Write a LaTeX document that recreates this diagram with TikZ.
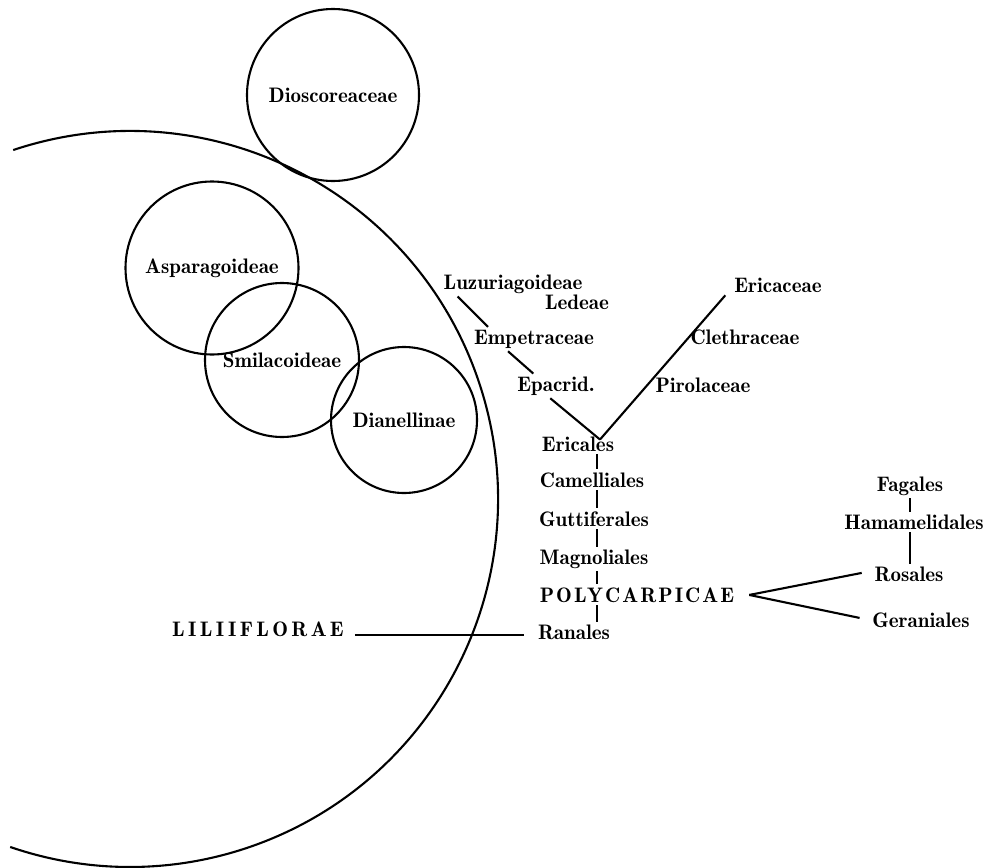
\documentclass[tikz,border=0pt]{standalone}
\usepackage{fontspec}
\newfontface\taxfont{lmromandemi10-regular.otf}
\newfontface\liliifont{lmromandemi10-regular.otf}[LetterSpace=16]
\newfontface\polyfont{lmromandemi10-regular.otf}[LetterSpace=10]
\begin{document}
\begin{tikzpicture}[x=1pt,y=-1pt,line width=2.1pt,
  taxon/.style={font=\taxfont\fontsize{21}{24}\selectfont,inner sep=2pt,anchor=mid},
  ring/.style={draw,circle,inner sep=0pt,font=\taxfont\fontsize{21}{24}\selectfont}]
\useasboundingbox (0,0) rectangle (989,868);

%Liliiflorae, stor cirkel
\draw (130,499) ++(-108.5:368) arc[start angle=-108.5,end angle=109,radius=368];

%cirklar
\node[ring,minimum size=172pt] (dios) at (333,95) {Dioscoreaceae};
\node[ring,minimum size=173pt] (aspa) at (212,268) {Asparagoideae};
\node[ring,minimum size=154pt] (smil) at (282,360) {Smilacoideae};
\node[ring,minimum size=146pt] (dian) at (404,420) {Dianellinae};

%Ericales-grenen
\node[taxon] (luz) at (513,287) {Luzuriagoideae};
\node[taxon] (lede) at (577,307) {Ledeae};
\node[taxon] (empe) at (534,342) {Empetraceae};
\node[taxon] (epac) at (556,389) {Epacrid.};
\node[taxon] (eric) at (578,449) {Ericales};
\node[taxon] (erca) at (778,290) {Ericaceae};
\node[taxon] (clet) at (745,342) {Clethraceae};
\node[taxon] (piro) at (703,390) {Pirolaceae};

%stammen
\node[taxon] (came) at (592,485) {Camelliales};
\node[taxon] (gutt) at (594,524) {Guttiferales};
\node[taxon] (magn) at (594,562) {Magnoliales};
\node[taxon,font=\polyfont\fontsize{21}{24}\selectfont] (poly) at (637,600) {POLYCARPICAE};
\node[taxon] (rana) at (574,637) {Ranales};
\node[taxon,font=\liliifont\fontsize{21}{24}\selectfont] (lili) at (258,634) {LILIIFLORAE};

%Rosales-grenen
\node[taxon] (faga) at (910,489) {Fagales};
\node[taxon] (hama) at (914,527) {Hamamelidales};
\node[taxon] (rosa) at (909,579) {Rosales};
\node[taxon] (gera) at (921,625) {Geraniales};

\coordinate (stem) at (597,0);
\coordinate (vtip) at ([xshift=22pt,yshift=-6pt]eric.north);
\coordinate (fork) at ([xshift=12pt]poly.east);
\coordinate (ranaend) at ([xshift=-11pt,yshift=4pt]rana.base west);
\coordinate (liliend) at ([xshift=8pt]lili.east);

\draw ([xshift=17pt]luz.south west) -- ([xshift=17pt]empe.north west);
\draw ([xshift=37pt]empe.south west) -- ([xshift=19pt]epac.north west);
\draw ([xshift=36pt]epac.south west) -- (vtip);
\draw (vtip) -- ([xshift=-6pt]erca.south west);

\draw (eric.south -| stem) -- (came.north -| stem);
\draw (came.south -| stem) -- (gutt.north -| stem);
\draw (gutt.south -| stem) -- (magn.north -| stem);
\draw (magn.south -| stem) -- (poly.north -| stem);
\draw (poly.south -| stem) -- (rana.north -| stem);

\draw (liliend |- ranaend) -- (ranaend); %Liliiflorae-Ranales

\draw[shorten >=10pt] (fork) -- ([yshift=3pt]rosa.west);
\draw[shorten >=10pt] (fork) -- (gera.west);
\draw (faga.south) -- (faga.south |- hama.north);
\draw (faga.south |- hama.south) -- (faga.south |- rosa.north);
\end{tikzpicture}
\end{document}
